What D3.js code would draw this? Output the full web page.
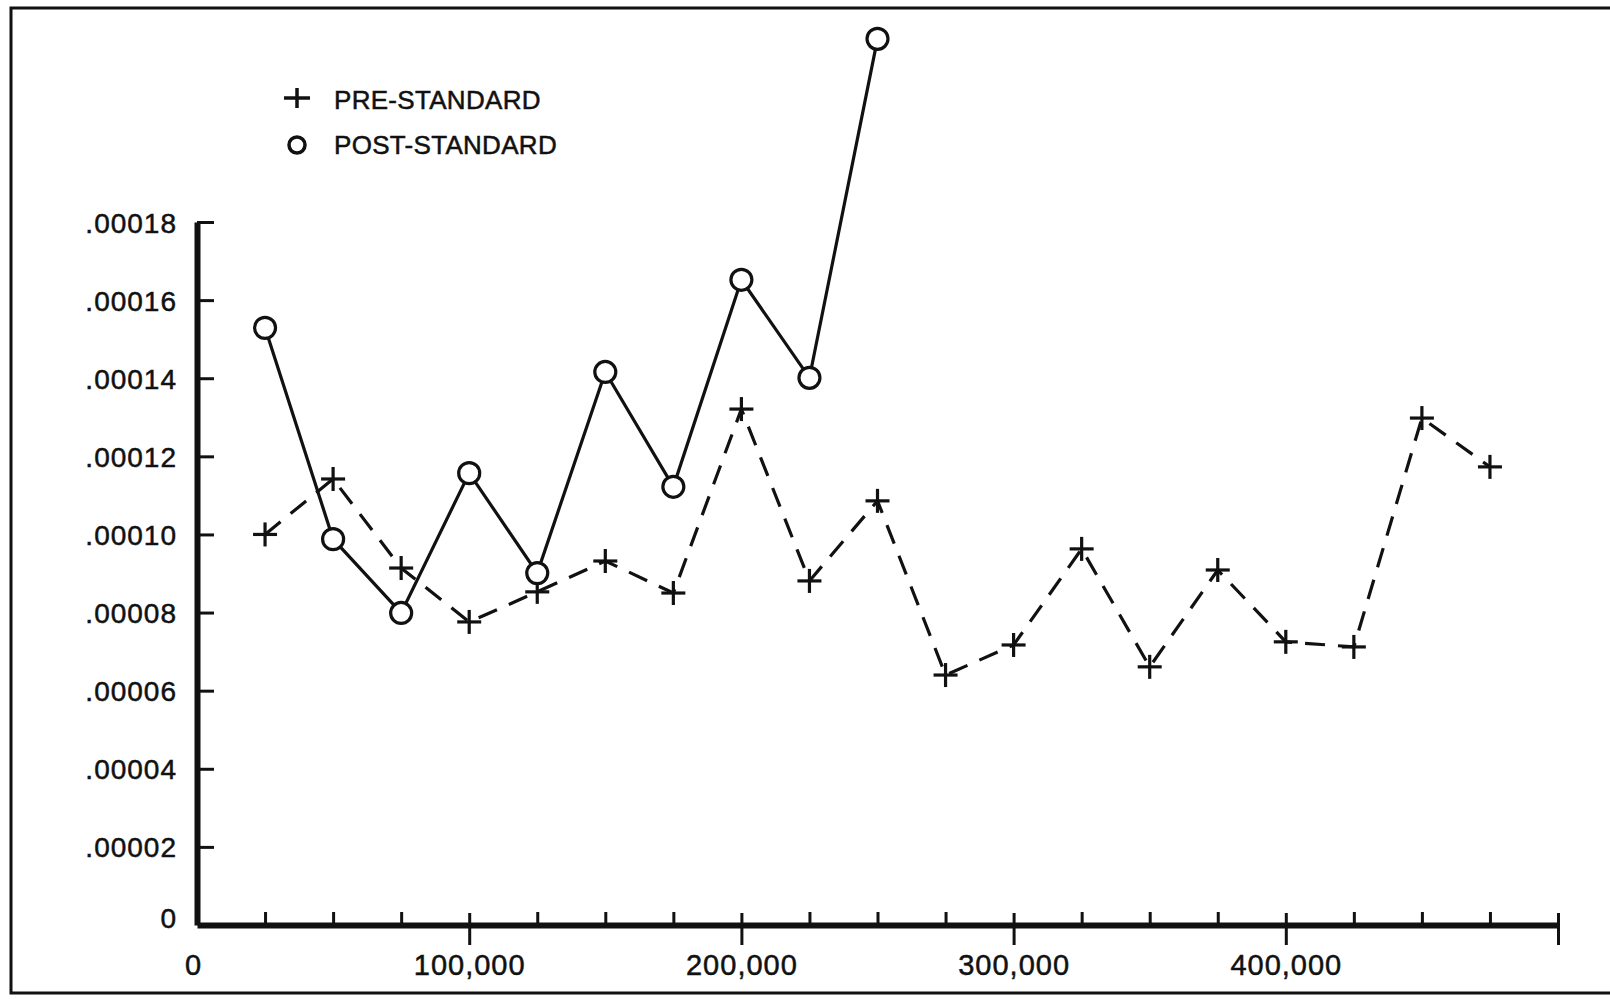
<!DOCTYPE html>
<html>
<head>
<meta charset="utf-8">
<script src="https://cdn.jsdelivr.net/npm/d3@7"></script>
<style>
  body { margin: 0; background: #fff; }
  svg { display: block; }
  text { font-family: "Liberation Sans Narrow", "Liberation Sans", sans-serif; fill: #111; stroke: #111; stroke-width: 0.5px; }
</style>
</head>
<body>
<svg id="chart" width="1610" height="999"></svg>
<script>

// x values every 25,000
var preX = [25000, 50000, 75000, 100000, 125000, 150000, 175000, 200000, 225000, 250000,
            275000, 300000, 325000, 350000, 375000, 400000, 425000, 450000, 475000];
var preValues = [0.0001, 0.0001142, 0.0000914, 0.0000776, 0.0000853, 0.0000932, 0.000085, 0.0001321, 0.0000881, 0.0001086,
                 0.000064, 0.0000717, 0.0000963, 0.0000661, 0.0000909, 0.0000725, 0.0000712, 0.0001298, 0.0001173];

var postX = [25000, 50000, 75000, 100000, 125000, 150000, 175000, 200000, 225000, 250000];
var postValues = [0.0001529, 0.0000988, 0.0000799, 0.0001157, 0.0000901, 0.0001416, 0.0001122, 0.0001652, 0.0001401, 0.0002269];

var yTicks = [0, 0.00002, 0.00004, 0.00006, 0.00008, 0.0001, 0.00012, 0.00014, 0.00016, 0.00018];
var yTickLabels = ["0", ".00002", ".00004", ".00006", ".00008", ".00010", ".00012", ".00014", ".00016", ".00018"];

var xMajorTicks = [100000, 200000, 300000, 400000, 500000];
var xMajorLabels = ["100,000", "200,000", "300,000", "400,000", ""];
var xMinorTicks = [25000, 50000, 75000, 125000, 150000, 175000, 225000, 250000, 275000,
                   325000, 350000, 375000, 425000, 450000, 475000];

var legendNames = ["PRE-STANDARD", "POST-STANDARD"];

var svg = d3.select('#chart');

var x = d3.scaleLinear().domain([0, 500000]).range([197, 1558]);
var y = d3.scaleLinear().domain([0, 0.00018]).range([925, 222]);

// frame (open on the right side)
svg.append('path')
    .attr('d', 'M1612,8 H11 V993 H1612')
    .attr('fill', 'none')
    .attr('stroke', '#111')
    .attr('stroke-width', 3);

// y axis, ticks point inward
var yAxis = d3.axisLeft(y)
    .tickValues(yTicks)
    .tickFormat(function(d, i){ return yTickLabels[i]; })
    .tickSizeInner(-17)
    .tickSizeOuter(0)
    .tickPadding(20);

var gy = svg.append('g')
    .attr('transform', 'translate(' + x(0) + ',0)')
    .call(yAxis);

gy.select('.domain').attr('stroke', '#111').attr('stroke-width', 6);
gy.selectAll('.tick line').attr('stroke', '#111').attr('stroke-width', 3);
gy.selectAll('.tick text')
    .style('font-size', '28px')
    .style('letter-spacing', '1px')
    .attr('dy', '0.36em');
// the zero label sits a bit higher, no tick on it
gy.selectAll('.tick').filter(function(d){ return d == 0; }).select('line').remove();
gy.selectAll('.tick').filter(function(d){ return d == 0; }).select('text').attr('dy', '0.1em');

// x axis minor ticks (upward)
var xMinor = d3.axisBottom(x)
    .tickValues(xMinorTicks)
    .tickFormat('')
    .tickSizeInner(-13)
    .tickSizeOuter(0);

var gxm = svg.append('g')
    .attr('transform', 'translate(0,' + y(0) + ')')
    .call(xMinor);

gxm.select('.domain').attr('stroke', '#111').attr('stroke-width', 6);
gxm.selectAll('.tick line').attr('stroke', '#111').attr('stroke-width', 3);

// x axis major ticks (crossing the axis)
var xMajor = d3.axisBottom(x)
    .tickValues(xMajorTicks)
    .tickFormat(function(d, i){ return xMajorLabels[i]; })
    .tickSizeInner(20)
    .tickSizeOuter(0)
    .tickPadding(9);

var gx = svg.append('g')
    .attr('transform', 'translate(0,' + y(0) + ')')
    .call(xMajor);

gx.select('.domain').remove();
gx.selectAll('.tick line').attr('stroke', '#111').attr('stroke-width', 3).attr('y1', -12);
gx.selectAll('.tick text')
    .style('font-size', '29px')
    .style('letter-spacing', '1px');

// "0" label under the origin
svg.append('text')
    .attr('x', x(0) - 4)
    .attr('y', y(0) + 50)
    .attr('text-anchor', 'middle')
    .style('font-size', '29px')
    .text('0');

// lines
var line = d3.line()
    .x(function(d){ return x(d[0]); })
    .y(function(d){ return y(d[1]); });

var preData = preX.map(function(v, i){ return [v, preValues[i]]; });
var postData = postX.map(function(v, i){ return [v, postValues[i]]; });

svg.append('path')
    .datum(preData)
    .attr('d', line)
    .attr('fill', 'none')
    .attr('stroke', '#111')
    .attr('stroke-width', 3.2)
    .attr('stroke-dasharray', '20,13');

svg.append('path')
    .datum(postData)
    .attr('d', line)
    .attr('fill', 'none')
    .attr('stroke', '#111')
    .attr('stroke-width', 3.2);

// plus markers
function plus(sel, half){
    sel.append('line').attr('x1', -half).attr('x2', half).attr('y1', 0).attr('y2', 0);
    sel.append('line').attr('x1', 0).attr('x2', 0).attr('y1', -half).attr('y2', half);
}

svg.selectAll('.pre-mark')
    .data(preData)
    .enter()
    .append('g')
    .attr('class', 'pre-mark')
    .attr('transform', function(d){ return 'translate(' + x(d[0]) + ',' + y(d[1]) + ')'; })
    .attr('stroke', '#111')
    .attr('stroke-width', 3.2)
    .each(function(){ plus(d3.select(this), 12); });

svg.selectAll('.post-mark')
    .data(postData)
    .enter()
    .append('circle')
    .attr('class', 'post-mark')
    .attr('cx', function(d){ return x(d[0]); })
    .attr('cy', function(d){ return y(d[1]); })
    .attr('r', 10.5)
    .attr('fill', '#fff')
    .attr('stroke', '#111')
    .attr('stroke-width', 3.2);

// legend
var legend = svg.append('g');

var lp = legend.append('g')
    .attr('transform', 'translate(297,98)')
    .attr('stroke', '#111')
    .attr('stroke-width', 3.5);
lp.append('line').attr('x1', -13).attr('x2', 13).attr('y1', 0).attr('y2', 0);
lp.append('line').attr('x1', 0).attr('x2', 0).attr('y1', -10).attr('y2', 10);

legend.append('circle')
    .attr('cx', 297)
    .attr('cy', 145)
    .attr('r', 8)
    .attr('fill', '#fff')
    .attr('stroke', '#111')
    .attr('stroke-width', 3.5);

legend.selectAll('.legend-label')
    .data(legendNames)
    .enter()
    .append('text')
    .attr('class', 'legend-label')
    .attr('x', 334)
    .attr('y', function(d, i){ return 109 + i * 45; })
    .style('font-size', '26px')
    .style('letter-spacing', '0.3px')
    .text(function(d){ return d; });

</script>
</body>
</html>
